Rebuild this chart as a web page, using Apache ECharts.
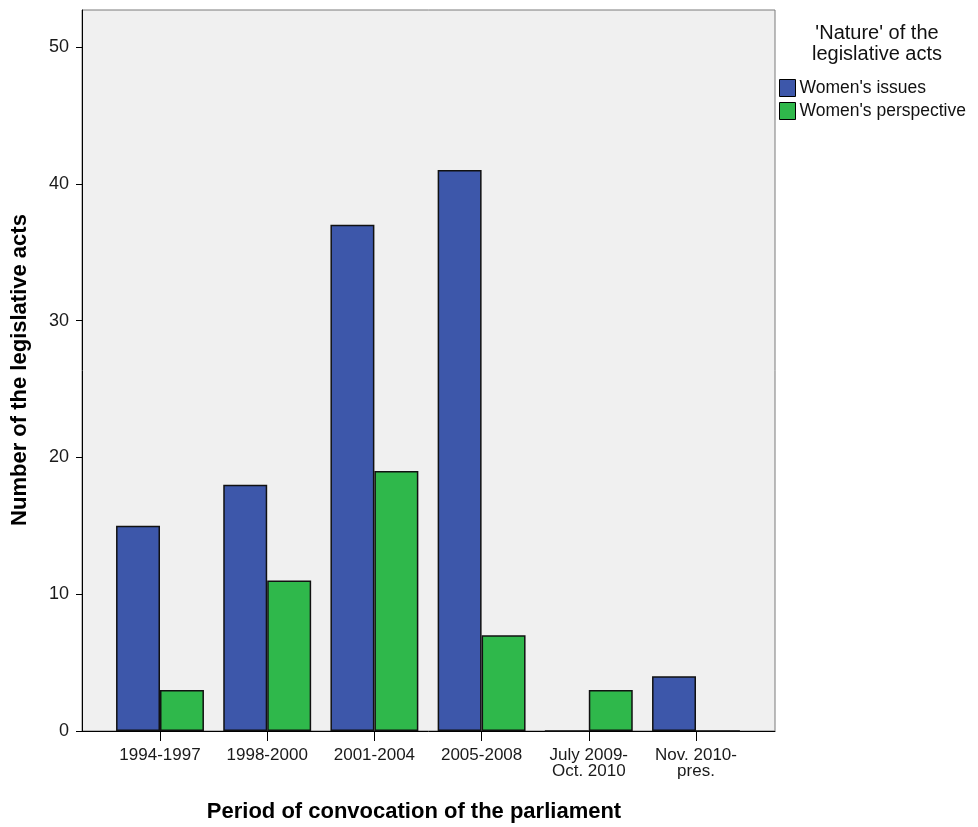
<!DOCTYPE html>
<html>
<head>
<meta charset="utf-8">
<script src="https://cdn.jsdelivr.net/npm/echarts@6/dist/echarts.min.js"></script>
<style>html,body{margin:0;padding:0;background:#fff;}#c{width:978px;height:827px;}</style>
</head>
<body>
<div id="c"></div>
<script>
const categories = ['1994-1997', '1998-2000', '2001-2004', '2005-2008', 'July 2009-\nOct. 2010', 'Nov. 2010-\npres.'];
const womensIssues = [15, 18, 37, 41, 0, 4];
const womensPerspective = [3, 11, 19, 7, 3, 0];
const yTicks = [0, 10, 20, 30, 40, 50];
const seriesNames = ["Women's issues", "Women's perspective"];

const FONT = "'Liberation Sans', Arial, sans-serif";
const chart = echarts.init(document.getElementById('c'), null, {renderer: 'canvas'});

chart.setOption({
  animation: false,
  backgroundColor: '#ffffff',
  textStyle: {fontFamily: FONT},
  grid: [
    {left: 82, right: 203, top: 10, bottom: 96, show: true, backgroundColor: '#f0f0f0', borderColor: '#7a7a7a', borderWidth: 1},
    {left: 106.4, right: 228.4, top: 10, bottom: 96}
  ],
  xAxis: [
    {gridIndex: 0, type: 'value', min: 0, max: 1, axisLine: {show: true, lineStyle: {color: '#000', width: 1}}, axisTick: {show: false}, axisLabel: {show: false}, splitLine: {show: false}},
    {gridIndex: 1, type: 'category', data: categories, axisLine: {show: false},
     axisTick: {show: true, alignWithLabel: true, length: 10, lineStyle: {color: '#000', width: 1}},
     axisLabel: {fontSize: 17, color: '#1a1a1a', margin: 16, lineHeight: 16, fontFamily: FONT, interval: 0}}
  ],
  yAxis: [
    {gridIndex: 0, type: 'value', show: false, min: 0, max: 1},
    {gridIndex: 1, type: 'value', min: 0, max: 52.7, interval: 10, offset: 24.4,
     axisLine: {show: true, lineStyle: {color: '#000', width: 1}},
     axisTick: {show: true, length: 6, customValues: yTicks, lineStyle: {color: '#000', width: 1}},
     axisLabel: {customValues: yTicks, fontSize: 18, color: '#1a1a1a', margin: 13, fontFamily: FONT},
     splitLine: {show: false}}
  ],
  legend: {
    orient: 'vertical', left: 779, top: 79, padding: 0, itemGap: 5, itemWidth: 16, itemHeight: 17,
    icon: 'rect', data: seriesNames,
    textStyle: {fontSize: 17.5, color: '#111', fontFamily: FONT, padding: [0, 0, 0, -1]},
    itemStyle: {borderColor: '#000', borderWidth: 1}
  },
  graphic: [
    {type: 'text', style: {text: "'Nature' of the\nlegislative acts", x: 877, y: 44, textAlign: 'center', textVerticalAlign: 'middle', fontSize: 20, lineHeight: 21, fill: '#111', fontFamily: FONT}},
    {type: 'text', style: {text: 'Period of convocation of the parliament', x: 414, y: 812, textAlign: 'center', textVerticalAlign: 'middle', fontSize: 22, fontWeight: 'bold', fill: '#000', fontFamily: FONT}},
    {type: 'text', x: 20, y: 370, rotation: Math.PI / 2, style: {text: 'Number of the legislative acts', x: 0, y: 0, textAlign: 'center', textVerticalAlign: 'middle', fontSize: 22, fontWeight: 'bold', fill: '#000', fontFamily: FONT}}
  ],
  series: [
    {name: seriesNames[0], type: 'bar', xAxisIndex: 1, yAxisIndex: 1, data: womensIssues, barGap: '0%', barCategoryGap: '18%',
     itemStyle: {color: '#3d57aa', borderColor: '#111', borderWidth: 1.5}},
    {name: seriesNames[1], type: 'bar', xAxisIndex: 1, yAxisIndex: 1, data: womensPerspective, barGap: '0%', barCategoryGap: '18%',
     itemStyle: {color: '#2fb84b', borderColor: '#111', borderWidth: 1.5}}
  ]
});
</script>
</body>
</html>
